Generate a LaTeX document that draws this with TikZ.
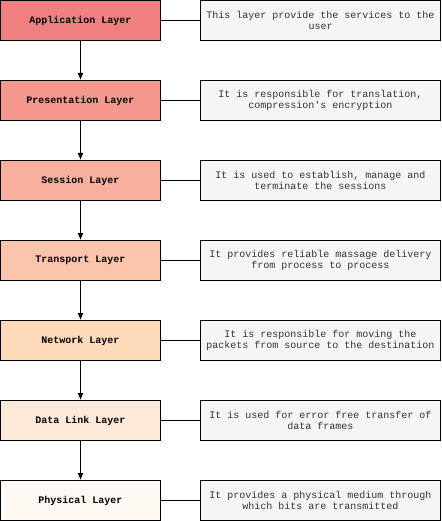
\documentclass[tikz,border=0pt]{standalone}
\usepackage{fontspec}
\setmonofont{Liberation Mono}
\usetikzlibrary{arrows.meta}
\definecolor{appl}{HTML}{F08080}
\definecolor{pres}{HTML}{F4988D}
\definecolor{sess}{HTML}{F8AF9D}
\definecolor{trans}{HTML}{FBC5AC}
\definecolor{netw}{HTML}{FDDAB8}
\definecolor{dlink}{HTML}{FDE9D8}
\definecolor{phys}{HTML}{FFF9F3}
\definecolor{note}{HTML}{F5F5F5}
\definecolor{notetext}{HTML}{333333}
\tikzset{layer/.style={draw=black,line width=1pt,minimum width=160pt,minimum height=40pt,inner sep=0pt,font=\ttfamily\bfseries\fontsize{10}{12}\selectfont},desc/.style={draw=black,line width=1pt,fill=note,text=notetext,align=center,minimum width=240pt,minimum height=40pt,inner sep=0pt,font=\ttfamily\fontsize{10}{11.5}\selectfont},arrow/.style={-{Latex[length=7pt,width=6pt]},line width=1pt},link/.style={line width=1pt}}
\begin{document}
\begin{tikzpicture}[x=1pt,y=1pt]
\useasboundingbox (0,0) rectangle (441,-521);
\node[layer,fill=appl] (app) at (80.5,-20.5) {Application Layer};
\node[layer,fill=pres] (pre) at (80.5,-100.5) {Presentation Layer};
\node[layer,fill=sess] (ses) at (80.5,-180.5) {Session Layer};
\node[layer,fill=trans] (tra) at (80.5,-260.5) {Transport Layer};
\node[layer,fill=netw] (net) at (80.5,-340.5) {Network Layer};
\node[layer,fill=dlink] (dat) at (80.5,-420.5) {Data Link Layer};
\node[layer,fill=phys] (phy) at (80.5,-500.5) {Physical Layer};
\node[desc] (dapp) at (320.5,-20.5) {This layer provide the services to the\\user};
\node[desc] (dpre) at (320.5,-100.5) {It is responsible for translation,\\compression's encryption};
\node[desc] (dses) at (320.5,-180.5) {It is used to establish, manage and\\terminate the sessions};
\node[desc] (dtra) at (320.5,-260.5) {It provides reliable massage delivery\\from process to process};
\node[desc] (dnet) at (320.5,-340.5) {It is responsible for moving the\\packets from source to the destination};
\node[desc] (ddat) at (320.5,-420.5) {It is used for error free transfer of\\data frames};
\node[desc] (dphy) at (320.5,-500.5) {It provides a physical medium through\\which bits are transmitted};
\draw[arrow](app)--(pre);\draw[arrow](pre)--(ses);\draw[arrow](ses)--(tra);\draw[arrow](tra)--(net);\draw[arrow](net)--(dat);\draw[arrow](dat)--(phy);
\draw[link](app)--(dapp);\draw[link](pre)--(dpre);\draw[link](ses)--(dses);\draw[link](tra)--(dtra);\draw[link](net)--(dnet);\draw[link](dat)--(ddat);\draw[link](phy)--(dphy);
\end{tikzpicture}
\end{document}
